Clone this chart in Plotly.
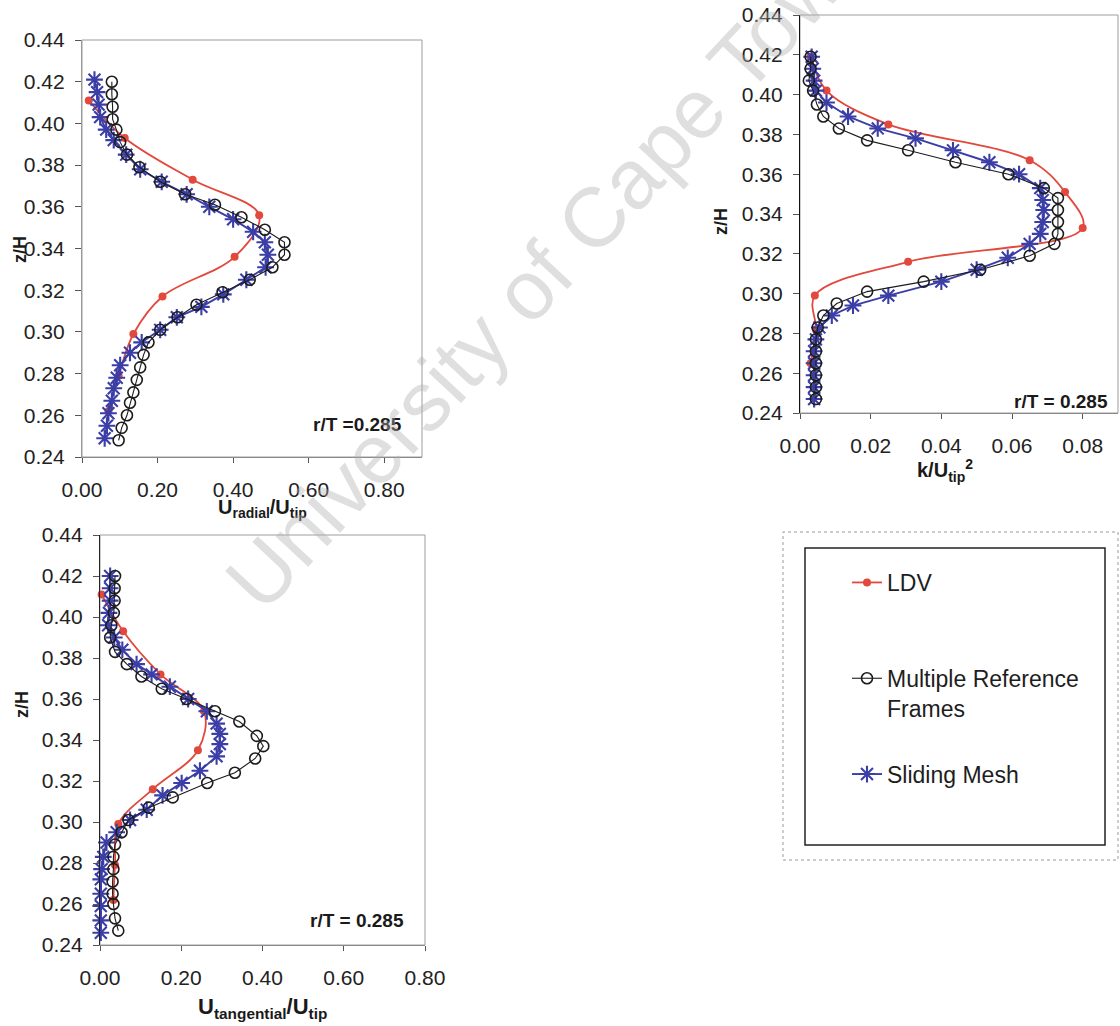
import plotly.graph_objects as go

# ---- LDV measurements -------------------------------------------------------
LDV_Z_RAD = [0.411, 0.393, 0.373, 0.356, 0.336, 0.317, 0.299, 0.279, 0.262]
LDV_U_RAD = [0.018, 0.113, 0.293, 0.469, 0.404, 0.213, 0.136, 0.097, 0.070]

LDV_Z_K = [0.419, 0.402, 0.385, 0.367, 0.351, 0.333, 0.316, 0.299, 0.282, 0.265]
LDV_K = [0.003, 0.0075, 0.025, 0.065, 0.075, 0.080, 0.0306, 0.0042, 0.0045, 0.003]

LDV_Z_TAN = [0.411, 0.393, 0.372, 0.354, 0.335, 0.316, 0.299, 0.279, 0.262]
LDV_U_TAN = [0.004, 0.057, 0.149, 0.256, 0.241, 0.130, 0.045, 0.037, 0.033]

# ---- Multiple Reference Frames simulation -----------------------------------
MRF_Z_RAD = [0.420, 0.414, 0.408, 0.402, 0.397, 0.391, 0.385, 0.379, 0.372, 0.366,
             0.361, 0.355, 0.349, 0.343, 0.337, 0.331, 0.325, 0.319, 0.313, 0.307,
             0.301, 0.295, 0.289, 0.283, 0.277, 0.271, 0.266, 0.260, 0.254, 0.248]
MRF_U_RAD = [0.079, 0.079, 0.081, 0.081, 0.091, 0.101, 0.119, 0.152, 0.207, 0.273,
             0.352, 0.422, 0.484, 0.536, 0.536, 0.504, 0.444, 0.372, 0.303, 0.253,
             0.207, 0.176, 0.163, 0.154, 0.145, 0.136, 0.127, 0.119, 0.105, 0.097]

MRF_Z_K = [0.419, 0.413, 0.407, 0.402, 0.395, 0.389, 0.383, 0.377, 0.372, 0.366,
           0.360, 0.353, 0.348, 0.342, 0.336, 0.330, 0.325, 0.319, 0.312, 0.306,
           0.301, 0.295, 0.289, 0.283, 0.277, 0.271, 0.265, 0.259, 0.253, 0.247]
MRF_K = [0.003, 0.003, 0.0025, 0.0037, 0.0048, 0.0066, 0.011, 0.019, 0.0306, 0.044,
         0.059, 0.069, 0.073, 0.073, 0.073, 0.073, 0.072, 0.065, 0.051, 0.035,
         0.019, 0.0104, 0.0066, 0.005, 0.0045, 0.0045, 0.0045, 0.0045, 0.0045, 0.0045]

MRF_Z_TAN = [0.420, 0.414, 0.408, 0.402, 0.396, 0.390, 0.383, 0.377, 0.371, 0.365,
             0.360, 0.354, 0.349, 0.342, 0.337, 0.331, 0.324, 0.319, 0.312, 0.307,
             0.301, 0.295, 0.289, 0.283, 0.277, 0.271, 0.265, 0.260, 0.253, 0.247]
MRF_U_TAN = [0.037, 0.036, 0.036, 0.034, 0.028, 0.025, 0.037, 0.066, 0.102, 0.152,
             0.213, 0.283, 0.343, 0.386, 0.402, 0.382, 0.332, 0.264, 0.179, 0.120,
             0.070, 0.053, 0.037, 0.033, 0.033, 0.031, 0.031, 0.033, 0.037, 0.045]

# ---- Sliding Mesh simulation ------------------------------------------------
SM_Z_RAD = [0.421, 0.415, 0.409, 0.403, 0.397, 0.392, 0.385, 0.378, 0.372, 0.366,
            0.360, 0.354, 0.348, 0.343, 0.337, 0.331, 0.325, 0.318, 0.312, 0.307,
            0.301, 0.295, 0.290, 0.284, 0.278, 0.273, 0.267, 0.261, 0.255, 0.249]
SM_U_RAD = [0.033, 0.040, 0.044, 0.048, 0.064, 0.084, 0.117, 0.154, 0.211, 0.277,
            0.337, 0.400, 0.453, 0.484, 0.492, 0.486, 0.435, 0.374, 0.316, 0.251,
            0.207, 0.158, 0.127, 0.101, 0.092, 0.084, 0.079, 0.070, 0.066, 0.060]

SM_Z_K = [0.419, 0.413, 0.407, 0.402, 0.396, 0.389, 0.383, 0.378, 0.372, 0.366,
          0.360, 0.353, 0.347, 0.342, 0.336, 0.330, 0.325, 0.318, 0.312, 0.306,
          0.299, 0.294, 0.289, 0.283, 0.277, 0.271, 0.265, 0.259, 0.253, 0.247]
SM_K = [0.0033, 0.0036, 0.004, 0.0045, 0.0075, 0.0136, 0.022, 0.0327, 0.0433, 0.0536,
        0.062, 0.068, 0.0687, 0.069, 0.0687, 0.068, 0.065, 0.0588, 0.050, 0.040,
        0.025, 0.015, 0.009, 0.0055, 0.0045, 0.004, 0.004, 0.004, 0.004, 0.004]

SM_Z_TAN = [0.420, 0.414, 0.408, 0.402, 0.396, 0.390, 0.384, 0.377, 0.372, 0.366,
            0.360, 0.354, 0.348, 0.343, 0.338, 0.332, 0.325, 0.319, 0.313, 0.306,
            0.301, 0.295, 0.290, 0.283, 0.277, 0.272, 0.265, 0.259, 0.252, 0.246]
SM_U_TAN = [0.025, 0.025, 0.025, 0.022, 0.020, 0.035, 0.055, 0.090, 0.127, 0.172,
            0.217, 0.263, 0.287, 0.295, 0.295, 0.287, 0.246, 0.201, 0.154, 0.115,
            0.074, 0.041, 0.016, 0.008, 0.004, 0.002, 0.002, 0.002, 0.002, 0.002]

# legend labels (two text lines each so the entries are evenly spaced)
SERIES_NAMES = ["LDV<br> ", "Multiple Reference<br>Frames", "Sliding Mesh"]
Y_TICKS = [0.24, 0.26, 0.28, 0.30, 0.32, 0.34, 0.36, 0.38, 0.40, 0.42, 0.44]

RED = "#e2483b"
BLUE = "#3a3ea6"
BLACK = "#1c1c1c"
FONT = "Liberation Sans, Arial, sans-serif"

W, H = 1120, 1026


def px_x(x):
    return x / W


def px_y(y):
    return 1 - y / H


fig = go.Figure()

panels = [
    ("x", "y", (LDV_U_RAD, LDV_Z_RAD), (MRF_U_RAD, MRF_Z_RAD), (SM_U_RAD, SM_Z_RAD)),
    ("x2", "y2", (LDV_K, LDV_Z_K), (MRF_K, MRF_Z_K), (SM_K, SM_Z_K)),
    ("x3", "y3", (LDV_U_TAN, LDV_Z_TAN), (MRF_U_TAN, MRF_Z_TAN), (SM_U_TAN, SM_Z_TAN)),
]

for i, (xa, ya, ldv, mrf, sm) in enumerate(panels):
    first = i == 0
    fig.add_trace(go.Scatter(
        x=ldv[0], y=ldv[1], xaxis=xa, yaxis=ya, name=SERIES_NAMES[0],
        mode="lines+markers", line=dict(color=RED, width=1.8, shape="spline", smoothing=1.0),
        marker=dict(symbol="circle", size=8, color=RED),
        showlegend=first, legendgroup="ldv", legendrank=1, cliponaxis=False))
    fig.add_trace(go.Scatter(
        x=sm[0], y=sm[1], xaxis=xa, yaxis=ya, name=SERIES_NAMES[2],
        mode="lines+markers", line=dict(color=BLUE, width=1.9),
        marker=dict(symbol="asterisk-open", size=14, color=BLUE, line=dict(color=BLUE, width=2.1)),
        showlegend=first, legendgroup="sm", legendrank=3, cliponaxis=False))
    fig.add_trace(go.Scatter(
        x=mrf[0], y=mrf[1], xaxis=xa, yaxis=ya, name=SERIES_NAMES[1],
        mode="lines+markers", line=dict(color=BLACK, width=1.1),
        marker=dict(symbol="circle-open", size=11, color=BLACK, line=dict(color=BLACK, width=1.6)),
        showlegend=first, legendgroup="mrf", legendrank=2, cliponaxis=False))

tick_font = dict(family=FONT, size=21, color="#222222")

# plot boxes in pixel units: (left, right, top, bottom)
boxes = {
    "1": (82, 422, 40, 457),
    "2": (800, 1118, 15, 413),
    "3": (100, 425, 535, 945),
}
xranges = {"1": [0, 0.9], "2": [0, 0.09], "3": [0, 0.8]}
left_line = {"1": "#9a9a9a", "2": "#111111", "3": "#222222"}

layout_axes = {}
for key, (l, r, t, b) in boxes.items():
    sfx = "" if key == "1" else key
    layout_axes["xaxis" + sfx] = dict(
        domain=[px_x(l), px_x(r)], range=xranges[key], dtick=0.02 if key == "2" else 0.2,
        tick0=0, tickformat=".2f", anchor="y" + sfx, showgrid=False, zeroline=False,
        showline=True, linecolor="#8a8a8a", linewidth=1, automargin=False,
        ticks="outside", ticklen=5, tickcolor="#555555",
        tickfont=tick_font, ticklabelstandoff=9)
    layout_axes["yaxis" + sfx] = dict(
        domain=[px_y(b), px_y(t)], range=[0.24, 0.44], tickvals=Y_TICKS, tickformat=".2f",
        anchor="x" + sfx, showgrid=False, zeroline=False, automargin=False,
        showline=True, linecolor=left_line[key], linewidth=1.3,
        ticks="outside", ticklen=6, tickcolor="#555555",
        tickfont=tick_font, ticklabelstandoff=6)

shapes = []
for key, (l, r, t, b) in boxes.items():
    sfx = "" if key == "1" else key
    shapes.append(dict(type="rect", xref=f"x{sfx} domain", yref=f"y{sfx} domain",
                       x0=0, x1=1, y0=0, y1=1, line=dict(color="#9d9d9d", width=1),
                       layer="below"))

# legend frames
shapes.append(dict(type="rect", xref="paper", yref="paper",
                   x0=px_x(783), x1=px_x(1118), y0=px_y(860), y1=px_y(532),
                   line=dict(color="#9a9a9a", width=1, dash="dot")))
shapes.append(dict(type="rect", xref="paper", yref="paper",
                   x0=px_x(805), x1=px_x(1105), y0=px_y(845), y1=px_y(548),
                   line=dict(color="#222222", width=1.5)))

lab_bold = dict(family=FONT, size=19, color="#1a1a1a")
title_font = dict(family=FONT, size=20, color="#1a1a1a")

annotations = [
    # r/T labels
    dict(text="<b>r/T =0.285</b>", x=px_x(404), y=px_y(424), xref="paper", yref="paper",
         xanchor="right", yanchor="middle", showarrow=False, font=lab_bold),
    dict(text="<b>r/T = 0.285</b>", x=px_x(1110), y=px_y(401), xref="paper", yref="paper",
         xanchor="right", yanchor="middle", showarrow=False, font=lab_bold),
    dict(text="<b>r/T = 0.285</b>", x=px_x(406), y=px_y(920), xref="paper", yref="paper",
         xanchor="right", yanchor="middle", showarrow=False, font=lab_bold),
    # x-axis titles
    dict(text="<b>U<sub>radial</sub>/U<sub>tip</sub></b>", x=px_x(262), y=px_y(508),
         xref="paper", yref="paper", xanchor="center", yanchor="middle", showarrow=False,
         font=title_font),
    dict(text="<b>k/U<sub>tip</sub><sup>2</sup></b>", x=px_x(945), y=px_y(471),
         xref="paper", yref="paper", xanchor="center", yanchor="middle", showarrow=False,
         font=title_font),
    dict(text="<b>U<sub>tangential</sub>/U<sub>tip</sub></b>", x=px_x(262), y=px_y(1008),
         xref="paper", yref="paper", xanchor="center", yanchor="middle", showarrow=False,
         font=dict(family=FONT, size=22, color="#1a1a1a")),
    # y-axis titles
    dict(text="<b>z/H</b>", x=px_x(20), y=px_y(250), xref="paper", yref="paper",
         xanchor="center", yanchor="middle", textangle=-90, showarrow=False,
         font=dict(family=FONT, size=18, color="#1a1a1a")),
    dict(text="<b>z/H</b>", x=px_x(721), y=px_y(222), xref="paper", yref="paper",
         xanchor="center", yanchor="middle", textangle=-90, showarrow=False,
         font=dict(family=FONT, size=18, color="#1a1a1a")),
    dict(text="<b>z/H</b>", x=px_x(22), y=px_y(705), xref="paper", yref="paper",
         xanchor="center", yanchor="middle", textangle=-90, showarrow=False,
         font=dict(family=FONT, size=18, color="#1a1a1a")),
    # watermark
    dict(text="University of Cape Town", x=px_x(550), y=px_y(265), xref="paper",
         yref="paper", xanchor="center", yanchor="middle", textangle=-47, showarrow=False,
         font=dict(family=FONT, size=84, color="rgba(175,175,175,0.40)")),
]

fig.update_layout(
    width=W, height=H, margin=dict(l=0, r=0, t=0, b=0, autoexpand=False),
    paper_bgcolor="white", plot_bgcolor="white",
    font=dict(family=FONT, color="#222222"),
    shapes=shapes, annotations=annotations,
    legend=dict(x=px_x(847), y=px_y(561), xanchor="left", yanchor="top",
                font=dict(family=FONT, size=23, color="#1e1e1e"),
                bgcolor="rgba(0,0,0,0)", borderwidth=0,
                traceorder="grouped", tracegroupgap=33, valign="top"),
    **layout_axes,
)

fig.write_html("out.html")
